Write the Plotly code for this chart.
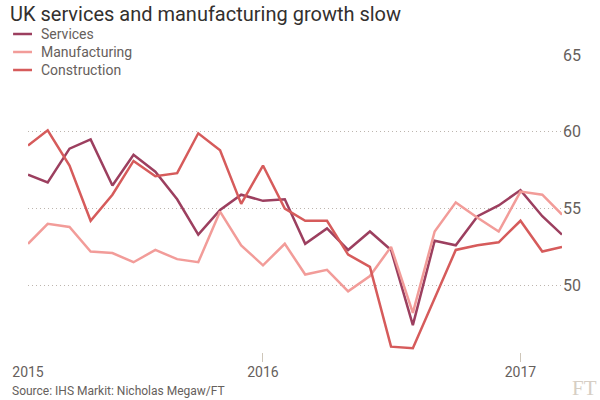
import pandas as pd
import plotly.graph_objects as go

# Monthly PMI readings, Jan 2015 - Feb 2017 (month-end dates)
months = pd.date_range("2015-01-31", periods=26, freq="ME")

services = [57.2, 56.7, 58.9, 59.5, 56.5, 58.5, 57.4, 55.6, 53.3, 54.9, 55.9, 55.5,
            55.6, 52.7, 53.7, 52.3, 53.5, 52.3, 47.4, 52.9, 52.6, 54.5, 55.2, 56.2,
            54.5, 53.3]
manufacturing = [52.7, 54.0, 53.8, 52.2, 52.1, 51.5, 52.3, 51.7, 51.5, 54.8, 52.6, 51.3,
                 52.7, 50.7, 51.0, 49.6, 50.6, 52.5, 48.2, 53.5, 55.4, 54.4, 53.5, 56.1,
                 55.9, 54.6]
construction = [59.1, 60.1, 57.8, 54.2, 55.9, 58.1, 57.1, 57.3, 59.9, 58.8, 55.3, 57.8,
                55.0, 54.2, 54.2, 52.0, 51.2, 46.0, 45.9, 49.2, 52.3, 52.6, 52.8, 54.2,
                52.2, 52.5]

series_names = ["Services", "Manufacturing", "Construction"]
series_colors = ["#9C3F5F", "#F29C99", "#D65B5B"]

x_tick_vals = [months[0], months[11], months[23]]
x_tick_text = ["2015", "2016", "2017"]
y_tick_vals = [50, 55, 60, 65]

# layout geometry (pixels)
W, H = 600, 400
ML, MR, MT, MB = 25, 38, 55, 38
PW, PH = W - ML - MR, H - MT - MB


def px_x(px):
    return (px - ML) / PW


def px_y(py):
    return (H - MB - py) / PH


fig = go.Figure()
for name, vals, col in zip(series_names, [services, manufacturing, construction], series_colors):
    fig.add_trace(go.Scatter(x=months, y=vals, name=name, mode="lines",
                             line=dict(color=col, width=2.5), showlegend=False))

grey = "#66605C"
fig.update_layout(
    width=W, height=H,
    paper_bgcolor="white", plot_bgcolor="white",
    margin=dict(l=ML, r=MR, t=MT, b=MB),
    font=dict(family="Roboto", color=grey),
    title=dict(text="UK services and manufacturing growth slow",
               x=0, xref="container", xanchor="left", y=1 - 14 / H, yanchor="middle",
               pad=dict(l=10),
               font=dict(size=20, color="#33302E", family="Roboto")),
    showlegend=False,
)

# legend drawn as key lines + labels
legend_y = [34, 52, 70]
for name, col, ly in zip(series_names, series_colors, legend_y):
    fig.add_shape(type="line", xref="paper", yref="paper",
                  x0=px_x(10), x1=px_x(29), y0=px_y(ly), y1=px_y(ly),
                  line=dict(color=col, width=2.5))
    fig.add_annotation(text=name, xref="paper", yref="paper",
                       x=px_x(36), y=px_y(ly), xanchor="left", yanchor="middle",
                       showarrow=False, font=dict(size=14, color=grey, family="Roboto"))

fig.update_xaxes(range=[months[0], months[-1]], tickvals=x_tick_vals, ticktext=x_tick_text,
                 showgrid=False, zeroline=False, showline=False,
                 ticks="inside", ticklen=9, tickcolor="#CEC6B9", tickwidth=1,
                 tickfont=dict(size=14, color=grey, family="Roboto"))
fig.update_yaxes(range=[45, 65], tickvals=y_tick_vals, side="right",
                 showgrid=True, gridcolor="#BDB5AE", griddash="1px,3px", gridwidth=1,
                 zeroline=False, showline=False, ticks="",
                 tickfont=dict(size=16, color=grey, family="Roboto"))

fig.add_annotation(text="Source: IHS Markit: Nicholas Megaw/FT", xref="paper", yref="paper",
                   x=px_x(7), y=px_y(391), xanchor="left", yanchor="middle", showarrow=False,
                   font=dict(size=12, color=grey, family="Roboto"))
fig.add_annotation(text="FT", xref="paper", yref="paper",
                   x=px_x(599), y=px_y(388), xanchor="right", yanchor="middle", showarrow=False,
                   font=dict(size=21, color="#D6CEC4", family="Liberation Serif"))

fig.write_html("out.html", config={"displayModeBar": False},
               post_script="document.body.style.margin='0px';")
